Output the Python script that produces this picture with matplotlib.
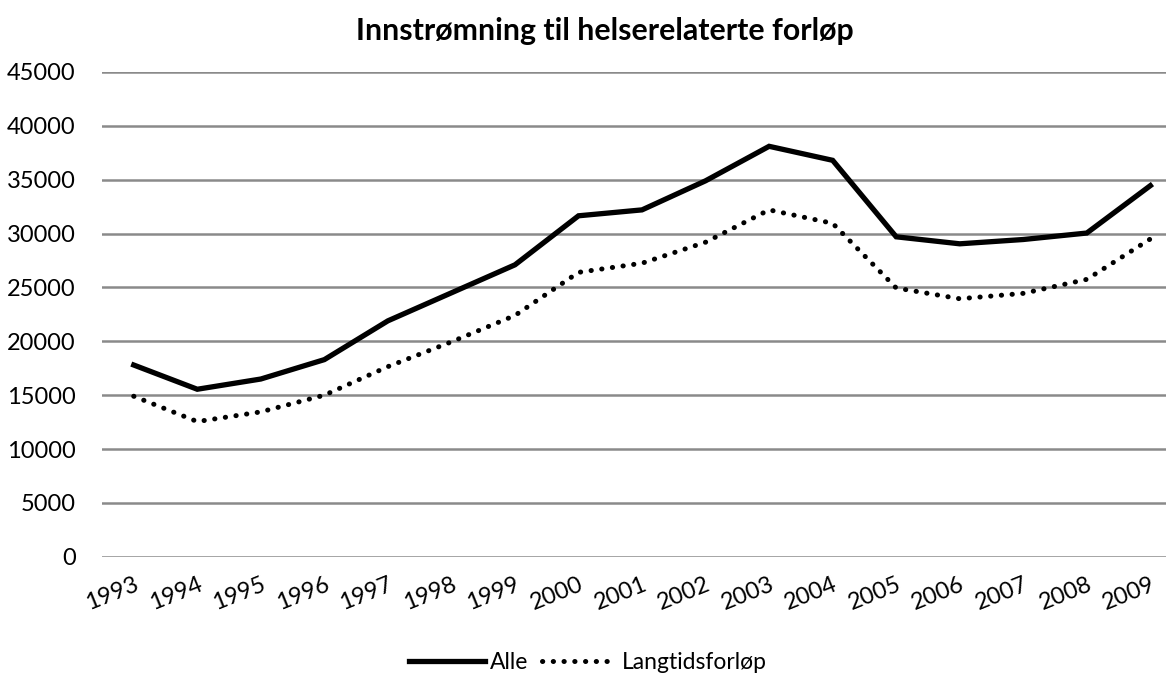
import matplotlib
matplotlib.use("Agg")
import matplotlib.pyplot as plt

years = ['1993', '1994', '1995', '1996', '1997', '1998', '1999', '2000', '2001',
         '2002', '2003', '2004', '2005', '2006', '2007', '2008', '2009']
alle = [17800, 15550, 16500, 18300, 21900, 24500, 27100, 31650, 32200,
        34900, 38100, 36800, 29700, 29050, 29450, 30050, 34450]
langtid = [14900, 12550, 13450, 15000, 17650, 19950, 22400, 26400, 27250,
           29200, 32200, 30950, 24950, 23950, 24450, 25750, 29500]
yticks = list(range(0, 45001, 5000))

plt.rcParams['font.family'] = ['Lato', 'DejaVu Sans']

fig = plt.figure(figsize=(11.76, 6.79), dpi=100)
ax = fig.add_axes([0.0867, 0.18, 0.905, 0.714])

x = range(len(years))
ax.plot(x, alle, color='black', lw=3.8, solid_joinstyle='miter', label='Alle')
ax.plot(x, langtid, color='black', lw=3.6, linestyle=(0, (0.05, 2.1)),
        dash_capstyle='round', label='Langtidsforløp')

ax.set_xlim(-0.5, len(years) - 0.75)
ax.set_ylim(0, 45000)
ax.set_yticks(yticks)
ax.set_yticklabels([str(v) for v in yticks], fontsize=17)
ax.set_xticks(list(x))
ax.set_xticklabels(years, fontsize=17, rotation=22, ha='right', rotation_mode='anchor')
ax.tick_params(axis='y', length=0, pad=19)
ax.tick_params(axis='x', length=0, pad=12)

ax.grid(axis='y', color='#8a8a8a', lw=1.8)
ax.set_axisbelow(True)
for s in ax.spines.values():
    s.set_visible(False)

fig.text(0.514, 0.955, 'Innstrømning til helserelaterte forløp',
         ha='center', va='center', fontsize=21.8, fontweight='bold')

fig.legend(loc='center', bbox_to_anchor=(0.5, 0.025), ncol=2, frameon=False,
           fontsize=16.5, handlelength=3.3, handletextpad=0.2, columnspacing=0.6)

fig.savefig('out.png', dpi=100)
